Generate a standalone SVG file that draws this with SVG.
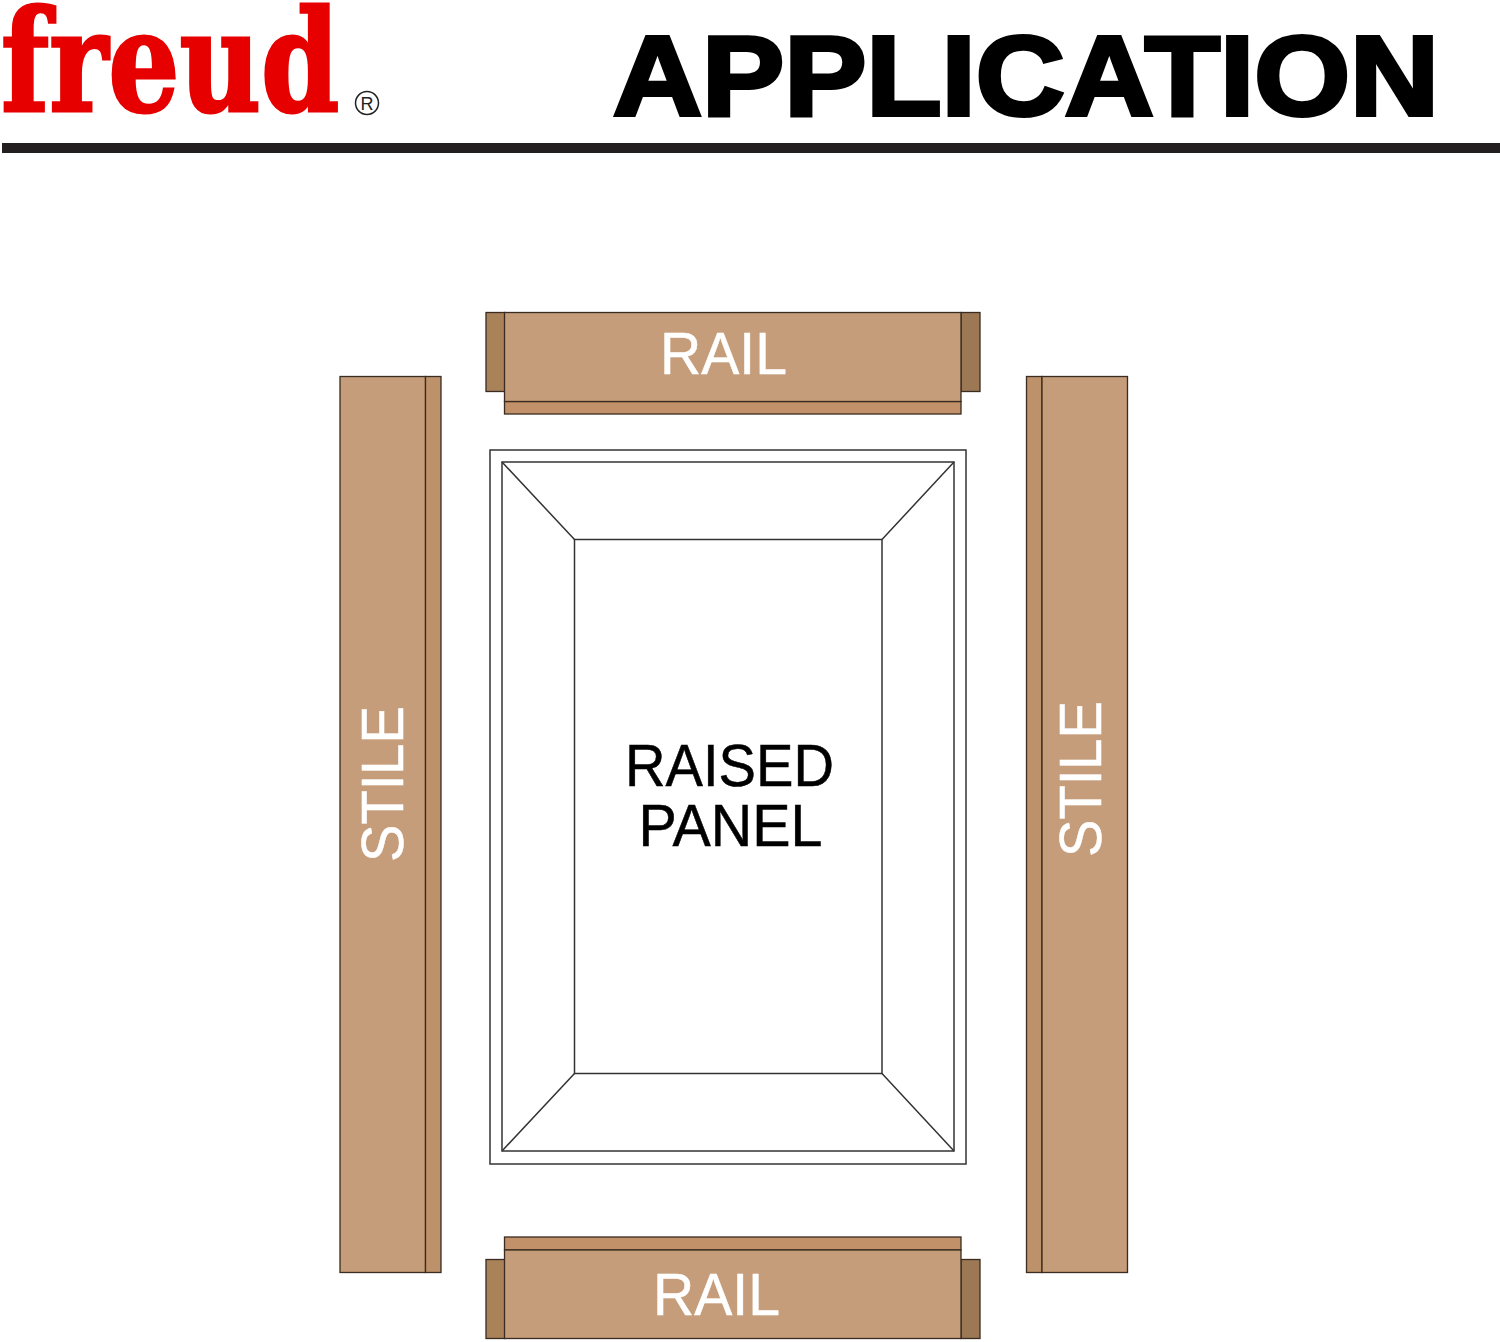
<svg xmlns="http://www.w3.org/2000/svg" width="1500" height="1342" viewBox="0 0 1500 1342">
<style>
.wood{fill:#c69d7a;stroke:#3a2c20;stroke-width:1.3}
.edge{fill:#c29069;stroke:#3a2c20;stroke-width:1.3}
.endl{fill:#a98259;stroke:#3a2c20;stroke-width:1.3}
.endr{fill:#9d7855;stroke:#3a2c20;stroke-width:1.3}
.side{fill:#bd9169;stroke:#3a2c20;stroke-width:1.3}
.ln{fill:none;stroke:#333;stroke-width:1.5}
.lab{font-family:"Liberation Sans",Arial,sans-serif;font-size:59px}
.w{fill:#fff;stroke:#fff;stroke-width:.5}
.k{fill:#000;stroke:#000;stroke-width:.5}
</style>
<rect width="1500" height="1342" fill="#fff"/>
<g id="header">
<text transform="translate(1 111) scale(.795 1)" font-family="'DejaVu Serif','Liberation Serif',serif" font-weight="700" font-size="141" fill="#e60000" stroke="#e60000" stroke-width="3">freud</text>
<circle cx="367" cy="103" r="11.5" fill="none" stroke="#222" stroke-width="1.5"/>
<text x="367" y="109.500" text-anchor="middle" font-family="'Liberation Sans',sans-serif" font-size="18" fill="#222">R</text>
<text x="613" y="115" font-family="'Liberation Sans',Arial,sans-serif" font-weight="700" font-size="113" fill="#000" stroke="#000" stroke-width="4" textLength="826" lengthAdjust="spacingAndGlyphs">APPLICATION</text>
<rect x="2" y="143" width="1498" height="10" fill="#231f20"/>
</g>
<g id="rail-top">
<rect class="endl" x="486" y="312.500" width="19" height="79"/>
<rect class="endr" x="961" y="312.500" width="19" height="79"/>
<rect class="edge" x="504.500" y="401.500" width="456.500" height="12.500"/>
<rect class="wood" x="504.500" y="312.500" width="456.500" height="89"/>
<text class="lab w" x="723.500" y="373.500" text-anchor="middle" textLength="127" lengthAdjust="spacingAndGlyphs">RAIL</text>
</g>
<g id="rail-bottom">
<rect class="endl" x="486" y="1259.500" width="19" height="79"/>
<rect class="endr" x="961" y="1259.500" width="19" height="79"/>
<rect class="edge" x="504.500" y="1237" width="456.500" height="13"/>
<rect class="wood" x="504.500" y="1250" width="456.500" height="88.500"/>
<text class="lab w" x="716.500" y="1315" text-anchor="middle" textLength="127" lengthAdjust="spacingAndGlyphs">RAIL</text>
</g>
<g id="stile-left">
<rect class="wood" x="340" y="376.500" width="85.500" height="896"/>
<rect class="side" x="425.500" y="376.500" width="15.500" height="896"/>
<text class="lab w" transform="translate(403 862) rotate(-90)" textLength="156" lengthAdjust="spacingAndGlyphs">STILE</text>
</g>
<g id="stile-right">
<rect class="side" x="1026.500" y="376.500" width="15.500" height="896"/>
<rect class="wood" x="1042" y="376.500" width="85.500" height="896"/>
<text class="lab w" transform="translate(1101 857) rotate(-90)" textLength="156" lengthAdjust="spacingAndGlyphs">STILE</text>
</g>
<g id="raised-panel">
<rect class="ln" x="490" y="450" width="476" height="714"/>
<rect class="ln" x="502" y="462" width="452" height="689"/>
<rect class="ln" x="574.500" y="539.500" width="307.500" height="534"/>
<path class="ln" d="M502 462L574.500 539.500M954 462L882 539.500M502 1151L574.500 1073.500M954 1151L882 1073.500"/>
<text class="lab k" x="729.500" y="786" text-anchor="middle" textLength="209" lengthAdjust="spacingAndGlyphs">RAISED</text>
<text class="lab k" x="730.500" y="846" text-anchor="middle" textLength="184" lengthAdjust="spacingAndGlyphs">PANEL</text>
</g>
</svg>
